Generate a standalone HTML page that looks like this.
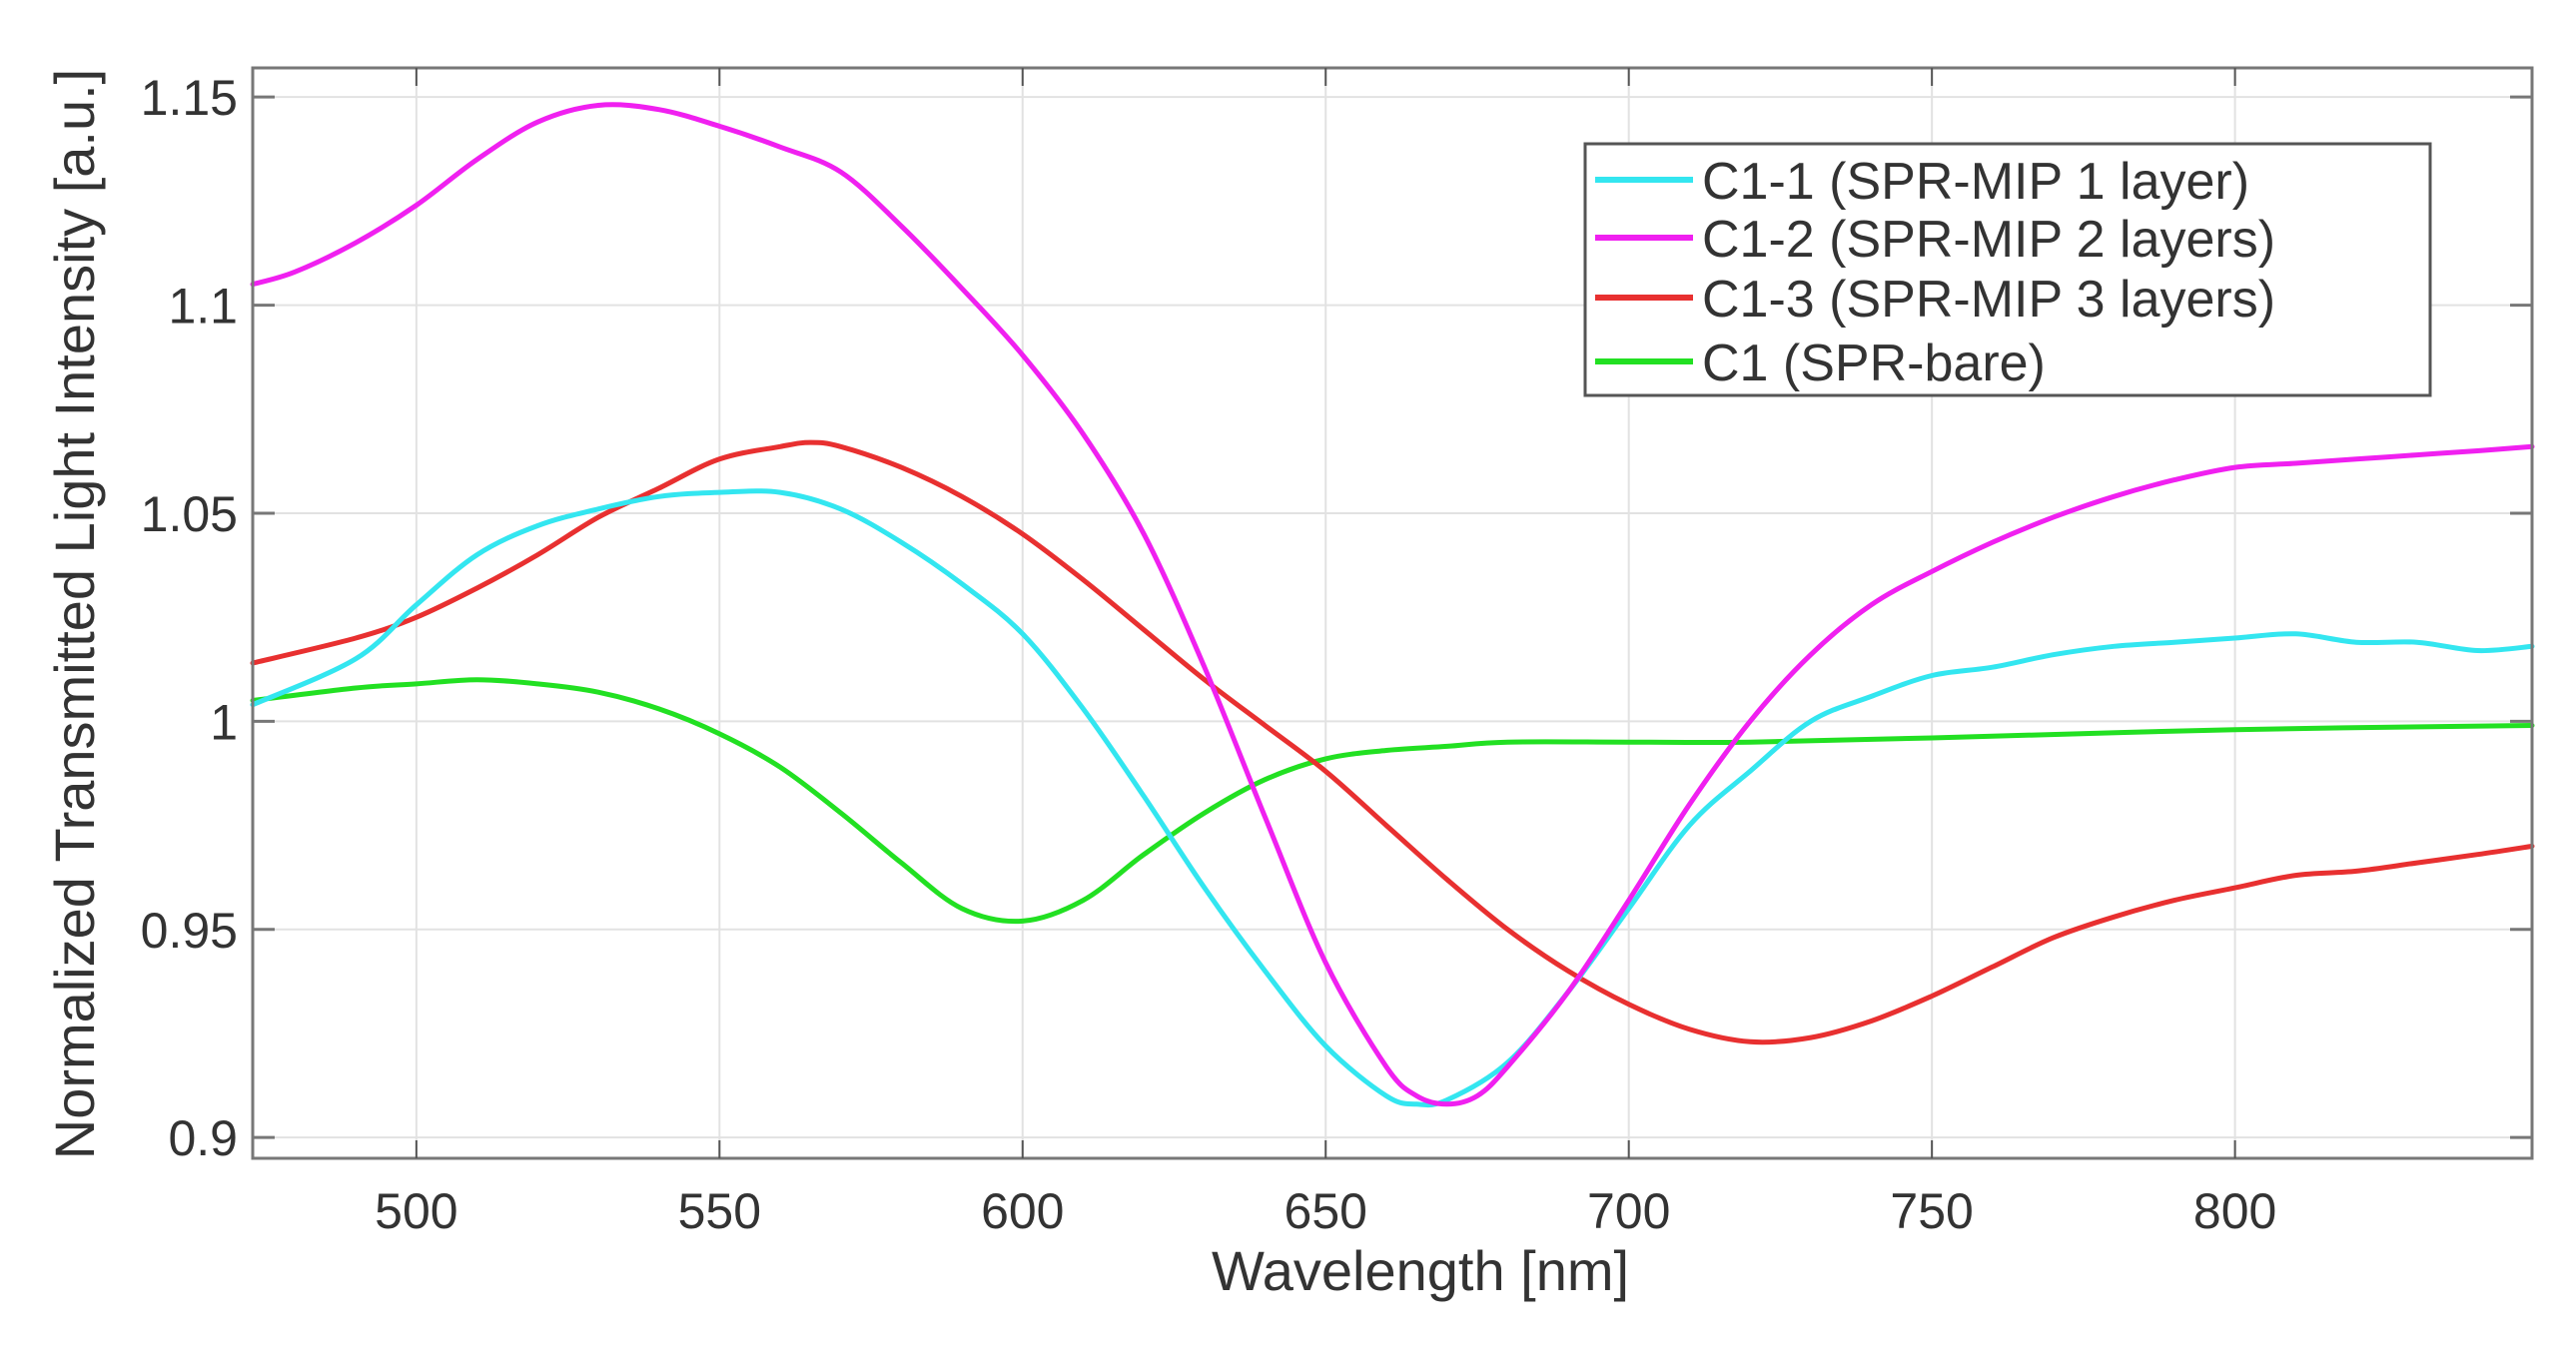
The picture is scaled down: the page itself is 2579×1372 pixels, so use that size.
<!DOCTYPE html>
<html><head><meta charset="utf-8"><style>
html,body{margin:0;padding:0;background:#fff;}
svg text{font-family:"Liberation Sans",sans-serif;fill:#333;}
</style></head><body>
<svg id="chart" width="2579" height="1367" viewBox="0 0 2579 1367" xmlns="http://www.w3.org/2000/svg">
<g id="grid"></g>
<g id="series"></g>
<rect x="253" y="68" width="2282" height="1092" fill="none" stroke="#777" stroke-width="3"/>
<g id="ticks"></g>
<text x="1422" y="1292" font-size="56" text-anchor="middle">Wavelength [nm]</text>
<text x="0" y="0" font-size="56" text-anchor="middle" transform="translate(94 615) rotate(-90)">Normalized Transmitted Light Intensity [a.u.]</text>
<g>
<rect x="1587" y="144" width="846" height="252" fill="#fff" stroke="#555" stroke-width="3"/>
<line x1="1597" y1="180" x2="1695" y2="180" stroke="#33e6f0" stroke-width="6"/>
<line x1="1597" y1="238" x2="1695" y2="238" stroke="#f020f0" stroke-width="6"/>
<line x1="1597" y1="298" x2="1695" y2="298" stroke="#e83030" stroke-width="6"/>
<line x1="1597" y1="362" x2="1695" y2="362" stroke="#22e022" stroke-width="6"/>
<g font-size="52" transform="translate(1704 0)">
<text x="0" y="199">C1-1 (SPR-MIP 1 layer)</text>
<text x="0" y="257">C1-2 (SPR-MIP 2 layers)</text>
<text x="0" y="317">C1-3 (SPR-MIP 3 layers)</text>
<text x="0" y="381">C1 (SPR-bare)</text>
</g>
</g>
</svg>
<script>
const xTicks=[500,550,600,650,700,750,800];
const yTicks=[0.9,0.95,1,1.05,1.1,1.15];
const yTickLabels=["0.9","0.95","1","1.05","1.1","1.15"];
const wlC11=[473,490,500,510,520,530,540,550,560,570,580,590,600,610,620,630,640,650,660,665,670,680,690,700,710,720,730,740,750,760,770,780,790,800,810,820,830,840,849];
const valC11=[1.004,1.015,1.028,1.040,1.047,1.051,1.054,1.055,1.055,1.051,1.043,1.033,1.021,1.003,0.982,0.960,0.940,0.922,0.910,0.908,0.909,0.918,0.935,0.955,0.975,0.988,1.000,1.006,1.011,1.013,1.016,1.018,1.019,1.020,1.021,1.019,1.019,1.017,1.018];
const wlC12=[473,480,490,500,510,520,530,540,550,560,570,580,590,600,610,620,630,640,650,660,665,670,675,680,690,700,710,720,730,740,750,760,770,780,790,800,810,820,830,840,849];
const valC12=[1.105,1.108,1.115,1.124,1.135,1.144,1.148,1.147,1.143,1.138,1.132,1.119,1.104,1.088,1.069,1.045,1.013,0.977,0.942,0.917,0.910,0.908,0.910,0.917,0.935,0.957,0.980,1.000,1.016,1.028,1.036,1.043,1.049,1.054,1.058,1.061,1.062,1.063,1.064,1.065,1.066];
const wlC13=[473,490,500,510,520,530,540,550,560,565,570,580,590,600,610,620,630,640,650,660,670,680,690,700,710,720,730,740,750,760,770,780,790,800,810,820,830,840,849];
const valC13=[1.014,1.020,1.025,1.032,1.040,1.049,1.056,1.063,1.066,1.067,1.066,1.061,1.054,1.045,1.034,1.022,1.010,0.999,0.988,0.975,0.962,0.950,0.940,0.932,0.926,0.923,0.924,0.928,0.934,0.941,0.948,0.953,0.957,0.960,0.963,0.964,0.966,0.968,0.970];
const wlC1=[473,490,500,510,520,530,540,550,560,570,580,590,600,610,620,630,640,650,660,670,680,700,720,750,800,849];
const valC1=[1.005,1.008,1.009,1.010,1.009,1.007,1.003,0.997,0.989,0.978,0.966,0.955,0.952,0.957,0.968,0.978,0.986,0.991,0.993,0.994,0.995,0.995,0.995,0.996,0.998,0.999];

const X0=253,X1=2535,Y0=68,Y1=1160,xmin=473,xmax=849,ymin=0.895,ymax=1.157;
function xs(v){return X0+(v-xmin)/(xmax-xmin)*(X1-X0);}
function ys(v){return Y1-(v-ymin)/(ymax-ymin)*(Y1-Y0);}
const NS="http://www.w3.org/2000/svg";
function mk(tag,parent,attrs){const e=document.createElementNS(NS,tag);for(const k in attrs)e.setAttribute(k,attrs[k]);parent.appendChild(e);return e;}
const grid=document.getElementById('grid'),ticks=document.getElementById('ticks'),series=document.getElementById('series');
xTicks.forEach(t=>{
  const g=mk('line',grid,{x1:xs(t),x2:xs(t),y1:Y0,y2:Y1,stroke:'#e2e2e2','stroke-width':2});
  
  
  const a=mk('line',ticks,{x1:xs(t),x2:xs(t),y1:Y1,y2:Y1-18,stroke:'#555','stroke-width':2});
  
  
  const b=mk('line',ticks,{x1:xs(t),x2:xs(t),y1:Y0,y2:Y0+18,stroke:'#555','stroke-width':2});
  
  
  const l=mk('text',ticks,{x:xs(t),y:1230,'font-size':50,'text-anchor':'middle'});
  l.textContent=String(t);
  
  
});
yTicks.forEach((t,i)=>{
  const g=mk('line',grid,{x1:X0,x2:X1,y1:ys(t),y2:ys(t),stroke:'#e2e2e2','stroke-width':2});
  
  
  const a=mk('line',ticks,{x1:X0,x2:X0+22,y1:ys(t),y2:ys(t),stroke:'#777','stroke-width':3});
  
  
  const b=mk('line',ticks,{x1:X1,x2:X1-22,y1:ys(t),y2:ys(t),stroke:'#777','stroke-width':3});
  
  
  const l=mk('text',ticks,{x:238,y:ys(t)+18,'font-size':50,'text-anchor':'end'});
  l.textContent=yTickLabels[i];
  
  
});
function draw(wl,val,color,name){
  const P=wl.map((w,i)=>[xs(w),ys(val[i])]);
  let d='M'+P[0][0].toFixed(1)+','+P[0][1].toFixed(1);
  for(let i=0;i<P.length-1;i++){
    const p0=P[Math.max(i-1,0)],p1=P[i],p2=P[i+1],p3=P[Math.min(i+2,P.length-1)];
    const c1=[p1[0]+(p2[0]-p0[0])/6,p1[1]+(p2[1]-p0[1])/6];
    const c2=[p2[0]-(p3[0]-p1[0])/6,p2[1]-(p3[1]-p1[1])/6];
    d+=' C'+c1[0].toFixed(1)+','+c1[1].toFixed(1)+' '+c2[0].toFixed(1)+','+c2[1].toFixed(1)+' '+p2[0].toFixed(1)+','+p2[1].toFixed(1);
  }
  const p=mk('path',series,{d:d,fill:'none',stroke:color,'stroke-width':5,'stroke-linejoin':'round','stroke-linecap':'round'});
  
  
}
draw(wlC1,valC1,'#22e022','line-c1-bare');
draw(wlC13,valC13,'#e83030','line-c1-3');
draw(wlC11,valC11,'#33e6f0','line-c1-1');
draw(wlC12,valC12,'#f020f0','line-c1-2');
</script>
</body></html>
